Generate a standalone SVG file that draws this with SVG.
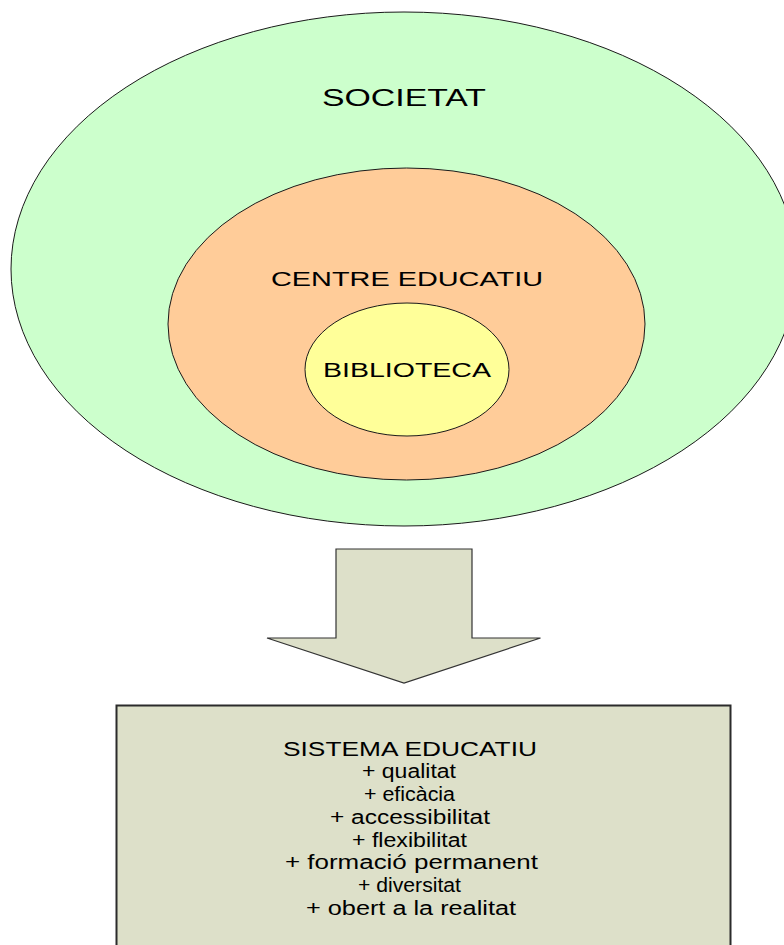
<svg xmlns="http://www.w3.org/2000/svg" width="784" height="945" viewBox="0 0 784 945">
  <style>
    .shape { stroke: #1a1a1a; stroke-width: 1; }
    .lbl { font-family: "Liberation Sans", Arial, sans-serif; fill: #000; text-anchor: middle; }
    .item { font-size: 19.5px; }
  </style>
  <rect width="784" height="945" fill="#ffffff"/>

  <!-- nested circles -->
  <g id="societat">
    <ellipse class="shape" cx="404" cy="269" rx="393" ry="257" fill="#CCFFCC"/>
    <text class="lbl" x="404" y="106" font-size="23" textLength="164" lengthAdjust="spacingAndGlyphs">SOCIETAT</text>
  </g>
  <g id="centre-educatiu">
    <ellipse class="shape" cx="406.5" cy="324" rx="238.5" ry="156" fill="#FFCC99"/>
    <text class="lbl" x="407" y="286" font-size="19.5" textLength="272" lengthAdjust="spacingAndGlyphs">CENTRE EDUCATIU</text>
  </g>
  <g id="biblioteca">
    <ellipse class="shape" cx="407" cy="369.5" rx="102" ry="66.5" fill="#FFFF99"/>
    <text class="lbl" x="407" y="376.5" font-size="20.5" textLength="168" lengthAdjust="spacingAndGlyphs">BIBLIOTECA</text>
  </g>

  <!-- block arrow -->
  <g id="connectors">
    <path d="M336,549 H472 V638 H540.5 L404,683 L267,638 H336 Z" fill="#DDE0C9" stroke="#333" stroke-width="1.2" stroke-linejoin="miter"/>
  </g>

  <!-- result box -->
  <g id="sistema-educatiu">
    <rect x="116.5" y="705.5" width="614" height="250" fill="#DDE0C9" stroke="#2b2b2b" stroke-width="2"/>
    <text class="lbl item" x="410" y="755.5" textLength="254" lengthAdjust="spacingAndGlyphs">SISTEMA EDUCATIU</text>
    <text class="lbl item" x="409" y="778" textLength="94" lengthAdjust="spacingAndGlyphs">+ qualitat</text>
    <text class="lbl item" x="409.5" y="801" textLength="91" lengthAdjust="spacingAndGlyphs">+ eficàcia</text>
    <text class="lbl item" x="410" y="824" textLength="160" lengthAdjust="spacingAndGlyphs">+ accessibilitat</text>
    <text class="lbl item" x="409.5" y="846.5" textLength="115" lengthAdjust="spacingAndGlyphs">+ flexibilitat</text>
    <text class="lbl item" x="411.5" y="869" textLength="253" lengthAdjust="spacingAndGlyphs">+ formació permanent</text>
    <text class="lbl item" x="409.5" y="892" textLength="103" lengthAdjust="spacingAndGlyphs">+ diversitat</text>
    <text class="lbl item" x="411" y="915" textLength="210" lengthAdjust="spacingAndGlyphs">+ obert a la realitat</text>
  </g>
</svg>
